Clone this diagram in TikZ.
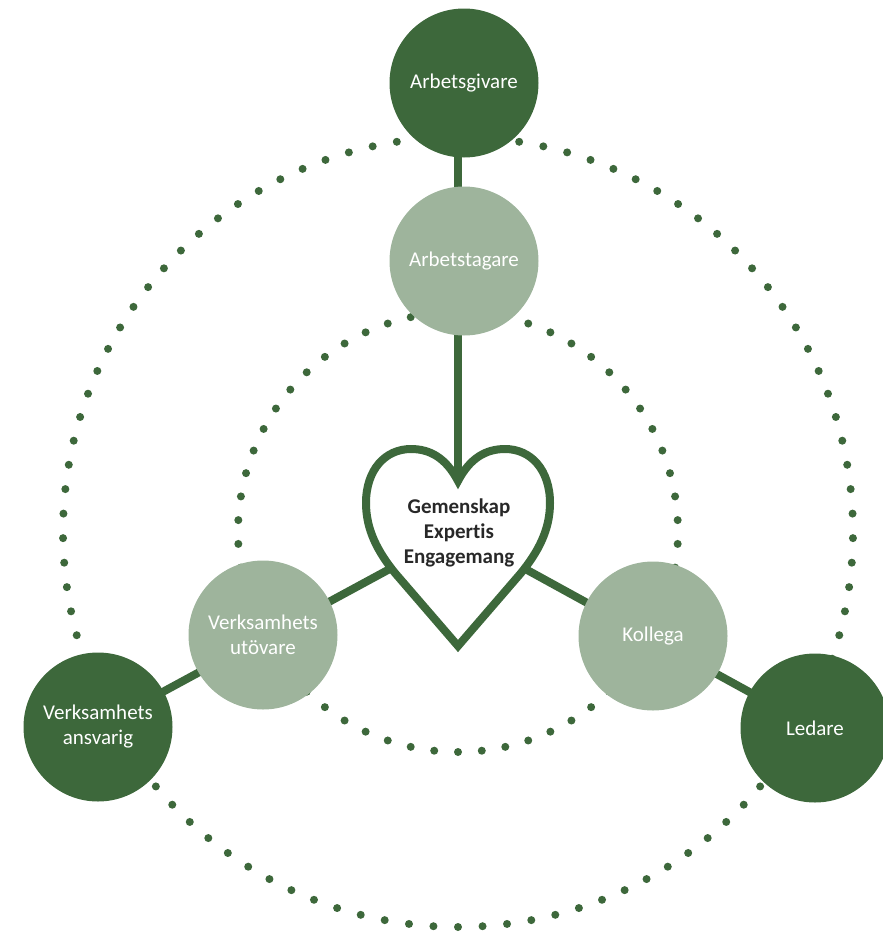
\documentclass[tikz,border=0pt]{standalone}
\usepackage{fontspec}
\setmainfont{Carlito}[Ligatures=NoCommon]
\usetikzlibrary{backgrounds}
\definecolor{morkgron}{RGB}{61,104,59}
\definecolor{ljusgron}{RGB}{158,180,156}
\definecolor{textgra}{RGB}{40,40,40}
\tikzset{
  roll/.style={circle, minimum size=149pt, inner sep=0pt, align=center,
    text=white, font=\fontsize{21}{25}\selectfont},
  mork/.style={roll, fill=morkgron},
  ljus/.style={roll, fill=ljusgron},
  eker/.style={draw=morkgron, line width=8pt},
  prick/.style={fill=morkgron},
}
\begin{document}
\begin{tikzpicture}[x=1pt, y=-1pt]
  \useasboundingbox (0,0) rectangle (883,935);
  \coordinate (hc) at (458,532);
  % prickade cirklar
  \foreach \i in {0,...,100}
    \fill[prick] (hc) ++({90+\i*(360/101)}:395) circle[radius=4pt];
  \foreach \i in {0,...,57}
    \fill[prick] (hc) ++({90+\i*(360/58)}:220) circle[radius=4pt];
  % roller
  \node[mork] (givare) at (464,83) {Arbetsgivare};
  \node[ljus] (tagare) at (464,261) {Arbetstagare};
  \node[ljus] (utovare) at (263,635) {Verksamhets\\utövare};
  \node[ljus] (kollega) at (653,636) {Kollega};
  \node[mork] (ansvarig) at (98,727) {Verksamhets\\ansvarig};
  \node[mork] (ledare) at (815,728) {Ledare};
  \begin{scope}[on background layer]
    \draw[eker] (hc) -- (hc |- givare.center);
    \draw[eker] (hc) -- (ansvarig.center);
    \draw[eker] (hc) -- (ledare.center);
  \end{scope}
  % hjärtat
  \draw[morkgron, line width=8pt, fill=white]
    (458,481) .. controls (446,458) and (430,449) .. (411,449)
    .. controls (385,449) and (366,470) .. (366,503)
    .. controls (366,530) and (378,552) .. (395,573)
    -- (458,646) -- (521,573)
    .. controls (538,552) and (550,530) .. (550,503)
    .. controls (550,470) and (531,449) .. (505,449)
    .. controls (486,449) and (470,458) .. (458,481) -- cycle;
  \node[font=\bfseries\fontsize{21}{25}\selectfont, text=textgra, align=center]
    (karna) at (459,533) {Gemenskap\\Expertis\\Engagemang};
\end{tikzpicture}
\end{document}
